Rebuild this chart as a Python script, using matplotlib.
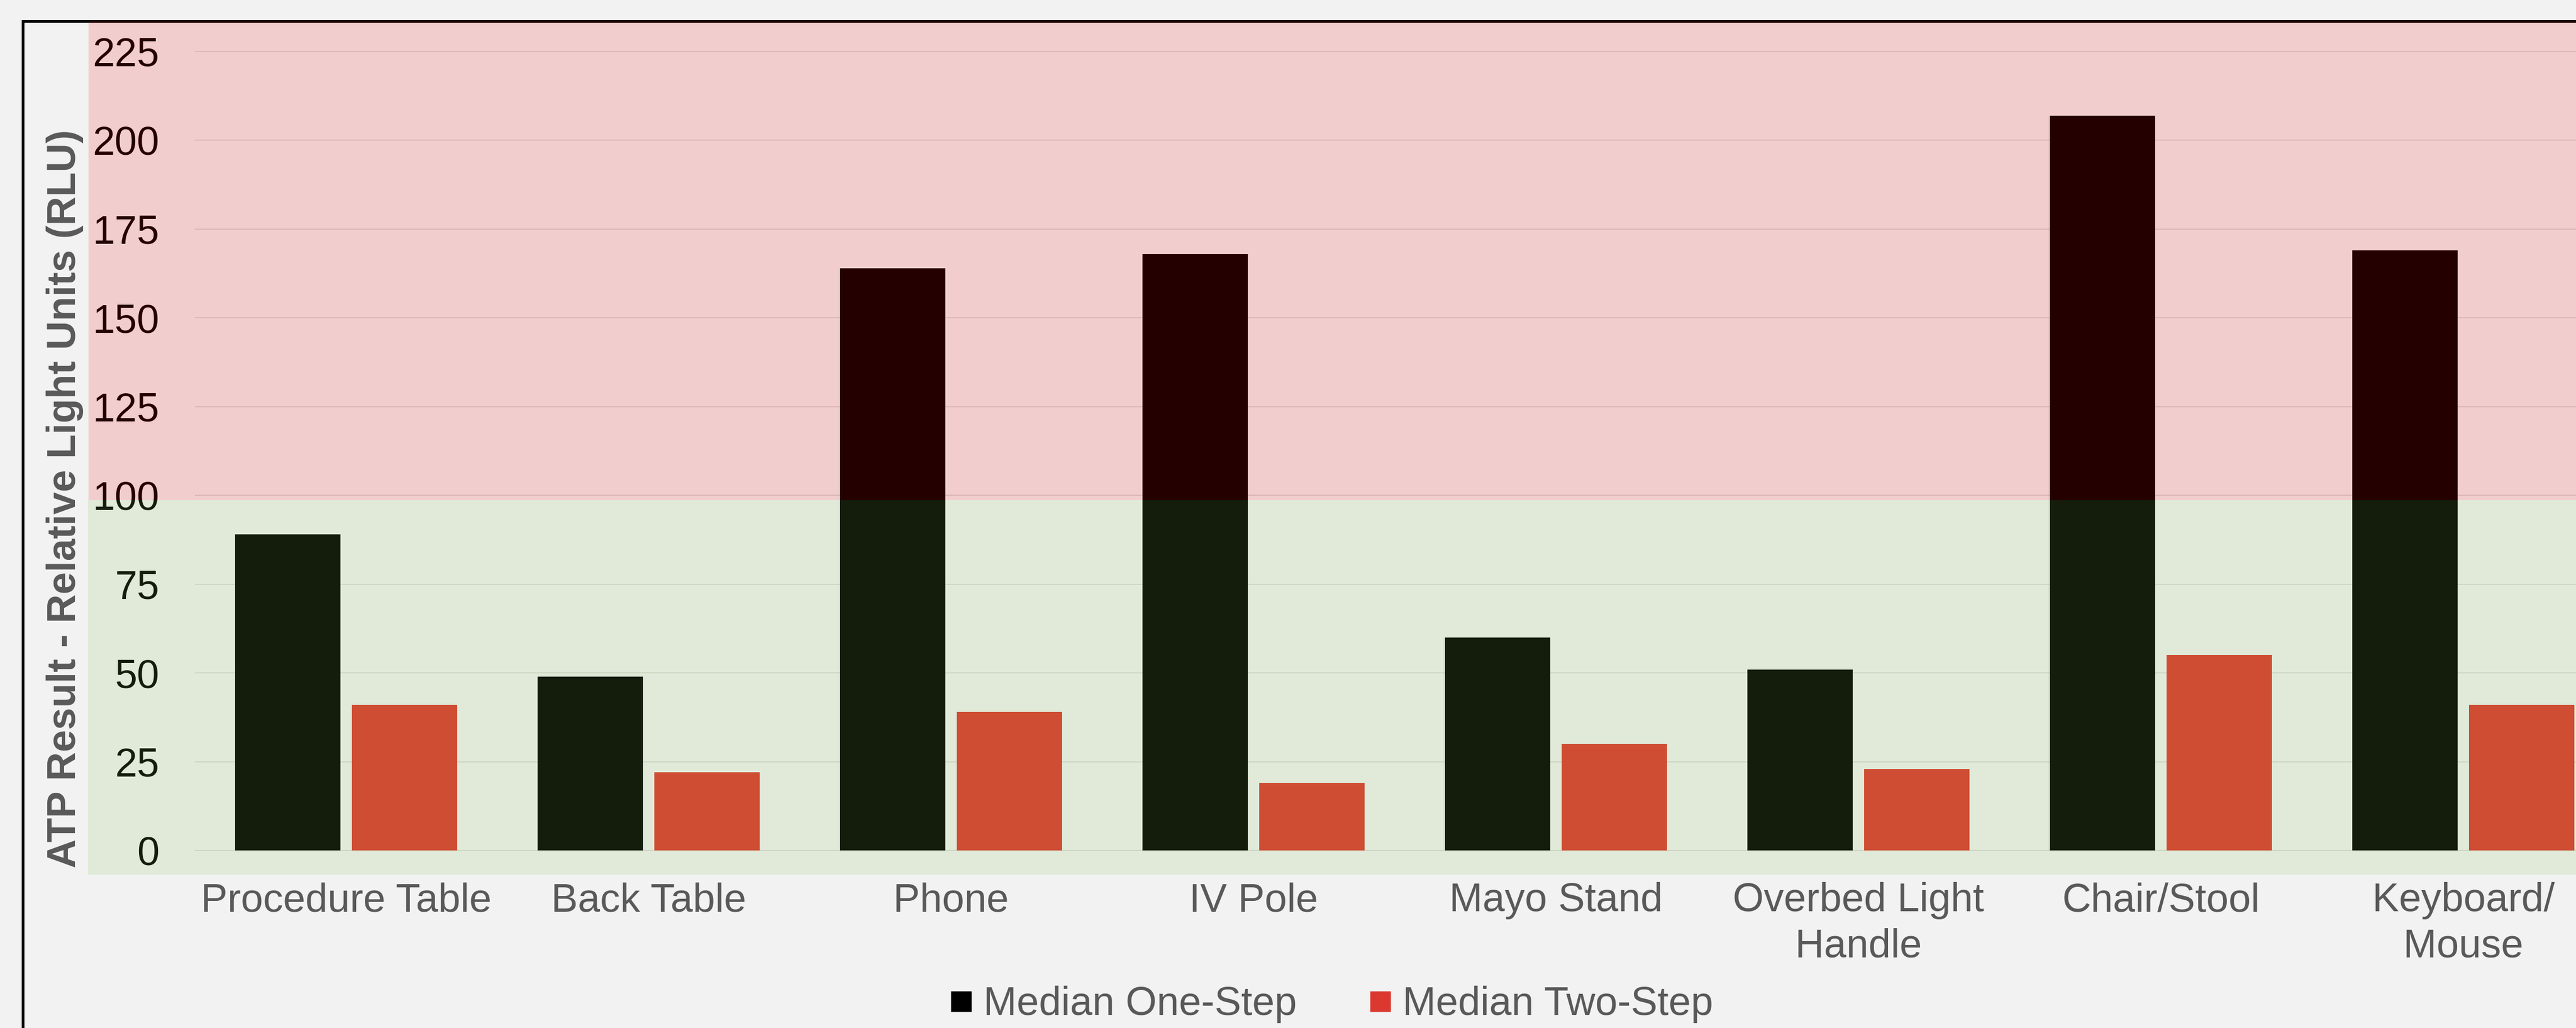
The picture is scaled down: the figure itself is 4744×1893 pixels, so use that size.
import matplotlib
matplotlib.use('Agg')
import matplotlib.pyplot as plt
from matplotlib import transforms
from matplotlib.patches import Rectangle
from matplotlib.lines import Line2D
import numpy as np

# ---- data ----
categories = ["Procedure Table", "Back Table", "Phone", "IV Pole", "Mayo Stand",
              "Overbed Light\nHandle", "Chair/Stool", "Keyboard/\nMouse"]
one_step = [89, 49, 164, 168, 60, 51, 207, 169]
two_step = [41, 22, 39, 19, 30, 23, 55, 41]
series_names = ["Median One-Step", "Median Two-Step"]
y_ticks = [0, 25, 50, 75, 100, 125, 150, 175, 200, 225]
y_label = "ATP Result - Relative Light Units (RLU)"
green_band = (-6.8, 98.6)   # "clean" zone overlay (data units)
pink_band = (98.6, 233.5)   # "fail" zone overlay (data units)

# ---- layout ----
W, H = 4744, 1893
DPI = 100
plt.rcParams['font.family'] = ['Liberation Sans', 'DejaVu Sans']
BG = '#F2F2F2'
GRAY = '#595959'
FS = 53

fig = plt.figure(figsize=(W / DPI, H / DPI), dpi=DPI, facecolor=BG)
ax_left, ax_right, ax_top, ax_bottom = 359, 4815, 38, 1610.5
ax = fig.add_axes([ax_left / W, 1 - ax_bottom / H,
                   (ax_right - ax_left) / W, (ax_bottom - ax_top) / H])
ax.set_facecolor('none')

x = np.arange(len(categories))
bw = 0.35
off = 0.193
ax.bar(x - off, one_step, bw, color='#000000', zorder=2)
ax.bar(x + off, two_step, bw, color='#DB3830', zorder=2)

ax.set_xlim(-0.5, len(categories) - 0.5)
ax.set_ylim(-6.8, 233.7)
ax.set_yticks(y_ticks)
ax.yaxis.grid(True, color='#D9D9D9', lw=1.4)
ax.set_axisbelow(True)
for s in ax.spines.values():
    s.set_visible(False)
ax.tick_params(axis='y', length=0, pad=47.5, labelsize=FS, labelcolor='black')
ax.tick_params(axis='x', length=0, pad=10, labelsize=FS, labelcolor=GRAY)
ax.set_xticks(x)
ax.set_xticklabels(categories, linespacing=1.28)

# chart frame (cropped at right/bottom)
frame = Line2D([42 / W, 42 / W, 1.01], [-0.01, 1 - 39 / H, 1 - 39 / H],
               transform=fig.transFigure, color='black', lw=3.6, zorder=1,
               solid_joinstyle='miter')
fig.add_artist(frame)

# translucent zone overlays
trans = transforms.blended_transform_factory(fig.transFigure, ax.transData)
pink = Rectangle((163 / W, pink_band[0]), 1.0, pink_band[1] - pink_band[0],
                 transform=trans, facecolor='#F80000', alpha=0.153,
                 edgecolor='none', zorder=10)
green = Rectangle((162 / W, green_band[0]), 1.0, green_band[1] - green_band[0],
                  transform=trans, facecolor='#89C448', alpha=0.153,
                  edgecolor='none', zorder=10)
fig.add_artist(pink)
fig.add_artist(green)

# y-axis title
fig.text(120 / W, 1 - 918 / H, y_label, rotation=90, ha='center', va='center',
         fontsize=FS, fontweight='bold', color=GRAY)

# legend
handles = [Line2D([], [], marker='s', ls='none', markersize=27.4,
                  markerfacecolor=c, markeredgecolor='none')
           for c in ['#000000', '#DB3830']]
fig.legend(handles, series_names, loc='center',
           bbox_to_anchor=(2453 / W, 1 - 1850 / H), ncol=2, frameon=False,
           fontsize=FS, handlelength=0.516, handletextpad=0.3,
           columnspacing=1.83, labelcolor=GRAY, borderpad=0)

fig.savefig('out.png', dpi=DPI, facecolor=BG)
